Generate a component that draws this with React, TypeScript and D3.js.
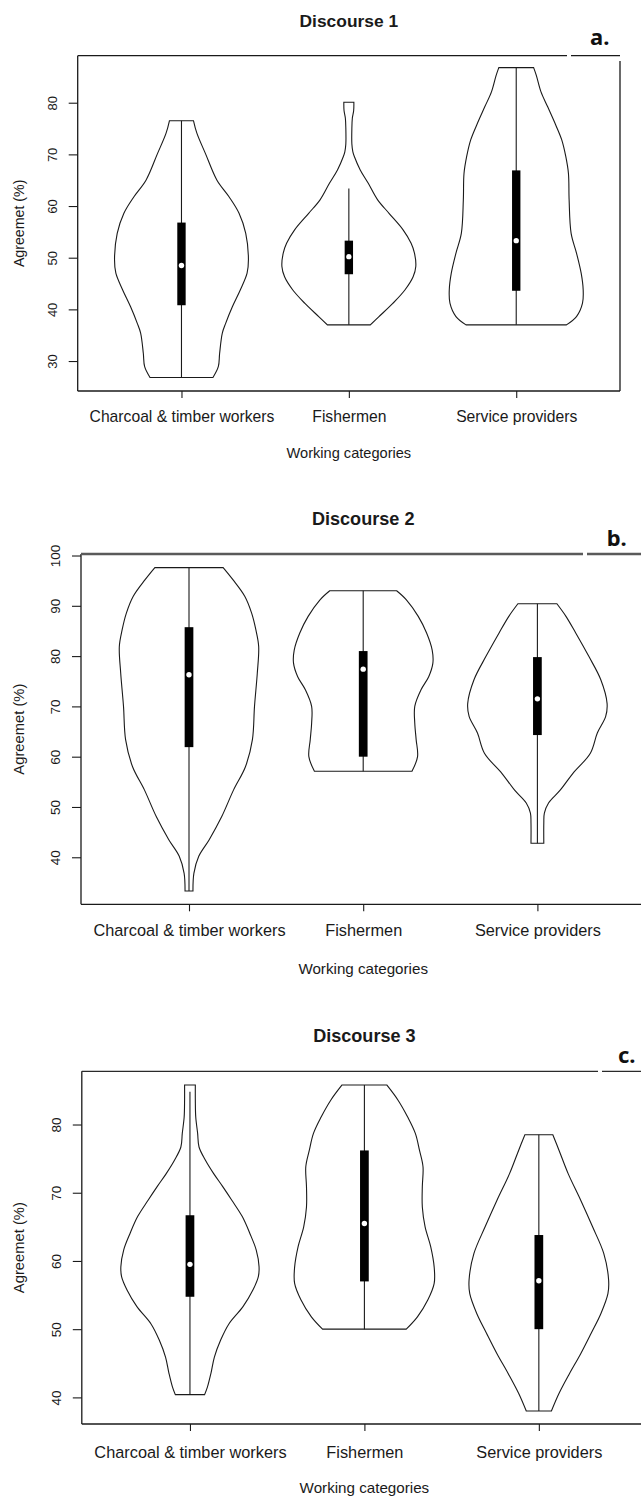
import React, { useEffect, useRef } from "react";
import * as d3 from "d3";

const categories = ["Charcoal & timber workers", "Fishermen", "Service providers"];
const titles = ["Discourse 1", "Discourse 2", "Discourse 3"];
const tags = ["a.", "b.", "c."];

// violin outlines: value (%) and relative density (own max = 1)
const d1CharcoalValues = [76.5, 74.1, 70.1, 65, 61.8, 58.6, 54.7, 49.6, 47, 43.8, 40.5, 37.3, 35.4, 31.5, 28.9, 26.8];
const d1CharcoalDensity = [0.18, 0.23, 0.36, 0.53, 0.71, 0.86, 0.96, 1.0, 0.98, 0.88, 0.76, 0.66, 0.61, 0.57, 0.55, 0.47];
const d1FishValues = [80.1, 78.5, 77, 75, 72, 70.5, 69.6, 67, 64.4, 61.2, 58.6, 55.4, 52.8, 50.9, 48.3, 46.3, 43.8, 41.2, 38.6, 37];
const d1FishDensity = [0.075, 0.072, 0.052, 0.045, 0.045, 0.06, 0.082, 0.17, 0.29, 0.43, 0.6, 0.81, 0.93, 0.98, 1.0, 0.96, 0.84, 0.66, 0.45, 0.32];
const d1ServiceValues = [86.8, 85.3, 82.1, 79.2, 75.7, 72.8, 69.6, 66.3, 61.2, 54.7, 50.9, 47, 43.8, 41.2, 38.6, 37];
const d1ServiceDensity = [0.26, 0.3, 0.37, 0.47, 0.59, 0.68, 0.74, 0.78, 0.79, 0.82, 0.9, 0.97, 1.0, 0.99, 0.9, 0.75];

const d2CharcoalValues = [97.6, 95.2, 91.9, 88.5, 85.2, 81.9, 76.6, 70, 63.4, 58, 53.4, 48.1, 43.5, 40.2, 36.8, 33.3];
const d2CharcoalDensity = [0.49, 0.63, 0.8, 0.9, 0.96, 1.0, 0.98, 0.94, 0.91, 0.81, 0.64, 0.47, 0.29, 0.14, 0.07, 0.057];
const d2FishValues = [93, 91.2, 87.9, 84.6, 81.2, 78.6, 75.9, 73.3, 70, 66.7, 63.4, 60, 57.1];
const d2FishDensity = [0.48, 0.62, 0.79, 0.91, 0.99, 1.0, 0.94, 0.83, 0.74, 0.74, 0.76, 0.78, 0.7];
const d2ServiceValues = [90.4, 87.9, 84.6, 79.9, 75.3, 70.6, 68, 64.7, 60.7, 56.7, 53.4, 50.8, 48.8, 46.8, 42.8];
const d2ServiceDensity = [0.28, 0.41, 0.55, 0.74, 0.91, 1.0, 0.98, 0.86, 0.76, 0.51, 0.33, 0.16, 0.1, 0.092, 0.092];

const d3CharcoalValues = [85.8, 83.6, 81.1, 78.7, 76.7, 74.8, 72.8, 70.9, 68.9, 66.5, 64, 61.6, 59.2, 57.7, 55.7, 53.3, 50.8, 48.4, 45.9, 43.5, 41.5, 40.4];
const d3CharcoalDensity = [0.077, 0.077, 0.083, 0.11, 0.13, 0.22, 0.34, 0.47, 0.6, 0.75, 0.86, 0.95, 0.99, 0.98, 0.9, 0.76, 0.56, 0.44, 0.35, 0.3, 0.25, 0.21];
const d3FishValues = [85.8, 83.6, 81.1, 78.7, 76.2, 73.8, 70.9, 67.9, 65, 62.1, 59.1, 56.7, 54.3, 51.8, 50];
const d3FishDensity = [0.32, 0.48, 0.62, 0.73, 0.79, 0.84, 0.83, 0.83, 0.87, 0.95, 1.0, 1.0, 0.91, 0.76, 0.6];
const d3ServiceValues = [78.5, 76.2, 72.8, 68.9, 65, 61.1, 57.2, 55.2, 52.3, 49.4, 46.4, 43.5, 40.6, 38];
const d3ServiceDensity = [0.2, 0.29, 0.42, 0.6, 0.77, 0.93, 1.0, 0.99, 0.89, 0.75, 0.6, 0.44, 0.29, 0.18];

// box stats per category: [lower whisker, q1, median, q3, upper whisker]
const d1Stats = [
  [26.8, 40.8, 48.5, 56.8, 76.5],
  [37, 46.8, 50.2, 53.3, 63.4],
  [37, 43.6, 53.3, 66.9, 86.8],
];
const d2Stats = [
  [33.3, 61.9, 76.3, 85.75, 97.6],
  [57.1, 60, 77.4, 81, 93],
  [42.8, 64.3, 71.5, 79.8, 90.4],
];
const d3Stats = [
  [40.4, 54.75, 59.5, 66.7, 84.8],
  [50, 57, 65.5, 76.2, 85.8],
  [38, 50, 57.1, 63.8, 78.5],
];

const d1Ticks = [30, 40, 50, 60, 70, 80];
const d2Ticks = [40, 50, 60, 70, 80, 90, 100];
const d3Ticks = [40, 50, 60, 70, 80];

const d1Domain = [24.2, 89.1];
const d2Domain = [30.65, 100.3];
const d3Domain = [36.1, 87.8];

const panels = [
  {
    values: [d1CharcoalValues, d1FishValues, d1ServiceValues],
    density: [d1CharcoalDensity, d1FishDensity, d1ServiceDensity],
    stats: d1Stats,
    ticks: d1Ticks,
    domain: d1Domain,
  },
  {
    values: [d2CharcoalValues, d2FishValues, d2ServiceValues],
    density: [d2CharcoalDensity, d2FishDensity, d2ServiceDensity],
    stats: d2Stats,
    ticks: d2Ticks,
    domain: d2Domain,
  },
  {
    values: [d3CharcoalValues, d3FishValues, d3ServiceValues],
    density: [d3CharcoalDensity, d3FishDensity, d3ServiceDensity],
    stats: d3Stats,
    ticks: d3Ticks,
    domain: d3Domain,
  },
];

// page geometry of each plot frame
const frames = [
  { left: 77.7, right: 620, top: 55.7, bottom: 391, titleY: 26.7, tagX: 590, tagY: 45, catY: 421.7, xTitleY: 458, gapX: 567, fs: 1, topColor: "#1a1a1a", topWidth: 1.2, rightTop: 61 },
  { left: 81, right: 645.4, top: 554, bottom: 904.3, titleY: 525, tagX: 606.7, tagY: 546, catY: 936, xTitleY: 974, gapX: 583, fs: 1.04, topColor: "#5a5a5a", topWidth: 2.4, rightTop: 554 },
  { left: 81.8, right: 647, top: 1071.3, bottom: 1424, titleY: 1041.7, tagX: 618, tagY: 1063, catY: 1457.5, xTitleY: 1493, gapX: 598, fs: 1.04, topColor: "#2a2a2a", topWidth: 1.3, rightTop: 1071.3 },
];

const FONT = "'Liberation Sans', Arial, Helvetica, sans-serif";
const INK = "#1a1a1a";

const ViolinPanel = ({ index }: { index: number }) => {
  const ref = useRef(null);

  useEffect(() => {
    const g = d3.select(ref.current);
    g.selectAll("*").remove();

    const p = panels[index];
    const f = frames[index];

    const x = d3.scaleLinear().domain([0.38, 3.62]).range([f.left, f.right]);
    const y = d3.scaleLinear().domain(p.domain).range([f.bottom, f.top]);
    const step = x(2) - x(1);
    const w = d3.scaleLinear().domain([0, 1]).range([0, 0.4 * step]);
    const boxW = 0.05 * step;

    // violins
    p.values.forEach((vals, i) => {
      const cx = x(i + 1);
      const pts = vals.map((v, k) => [v, p.density[i][k]]);
      const area = d3
        .area<number[]>()
        .y((d) => y(d[0]))
        .x0((d) => cx - w(d[1]))
        .x1((d) => cx + w(d[1]))
        .curve(d3.curveCatmullRom.alpha(0.5));

      g.append("path")
        .attr("d", area(pts))
        .attr("fill", "white")
        .attr("stroke", INK)
        .attr("stroke-width", 1.1);

      const [lo, q1, med, q3, hi] = p.stats[i];
      g.append("line")
        .attr("x1", cx)
        .attr("x2", cx)
        .attr("y1", y(lo))
        .attr("y2", y(hi))
        .attr("stroke", INK)
        .attr("stroke-width", 1.1);
      g.append("rect")
        .attr("x", cx - boxW / 2)
        .attr("width", boxW)
        .attr("y", y(q3))
        .attr("height", y(q1) - y(q3))
        .attr("fill", "#000");
      g.append("circle")
        .attr("cx", cx)
        .attr("cy", y(med))
        .attr("r", 2.7)
        .attr("fill", "white");
    });

    // frame
    const frame = g.append("g").attr("stroke", INK).attr("stroke-width", 1.3).attr("fill", "none");
    frame.append("line").attr("x1", f.left).attr("x2", f.left).attr("y1", f.top).attr("y2", f.bottom);
    frame.append("line").attr("x1", f.left).attr("x2", f.right).attr("y1", f.bottom).attr("y2", f.bottom);
    frame.append("line").attr("x1", f.right).attr("x2", f.right).attr("y1", f.rightTop).attr("y2", f.bottom);
    frame
      .append("line")
      .attr("x1", f.left)
      .attr("x2", f.gapX)
      .attr("y1", f.top)
      .attr("y2", f.top)
      .attr("stroke", f.topColor)
      .attr("stroke-width", f.topWidth);
    frame
      .append("line")
      .attr("x1", f.gapX + 4)
      .attr("x2", f.right)
      .attr("y1", f.top)
      .attr("y2", f.top)
      .attr("stroke", f.topColor)
      .attr("stroke-width", f.topWidth);

    // y axis, labels turned like R's default
    const yAxis = g
      .append("g")
      .attr("transform", `translate(${f.left},0)`)
      .call(d3.axisLeft(y).tickValues(p.ticks).tickSize(9).tickSizeOuter(0));
    yAxis.select(".domain").remove();
    yAxis.selectAll("line").attr("stroke", INK).attr("stroke-width", 1.1);
    yAxis
      .selectAll("text")
      .attr("transform", "rotate(-90)")
      .attr("x", 0)
      .attr("y", -21)
      .attr("dy", 0)
      .attr("text-anchor", "middle")
      .attr("font-family", FONT)
      .attr("font-size", 13 * f.fs)
      .attr("fill", INK);

    // x axis
    const xAxis = g
      .append("g")
      .attr("transform", `translate(0,${f.bottom})`)
      .call(
        d3
          .axisBottom(x)
          .tickValues([1, 2, 3])
          .tickFormat((d) => categories[+d - 1])
          .tickSize(7)
          .tickSizeOuter(0),
      );
    xAxis.select(".domain").remove();
    xAxis.selectAll("line").attr("stroke", INK).attr("stroke-width", 1.1);
    xAxis
      .selectAll("text")
      .attr("y", f.catY - f.bottom)
      .attr("dy", 0)
      .attr("font-family", FONT)
      .attr("font-size", 15.7 * f.fs)
      .attr("fill", INK);

    const mid = (f.left + f.right) / 2;

    g.append("text")
      .attr("x", mid)
      .attr("y", f.titleY)
      .attr("text-anchor", "middle")
      .attr("font-family", FONT)
      .attr("font-weight", "bold")
      .attr("font-size", 17.4 * f.fs)
      .attr("fill", INK)
      .text(titles[index]);

    g.append("text")
      .attr("x", f.tagX)
      .attr("y", f.tagY)
      .attr("font-family", "'Noto Sans', 'Open Sans', sans-serif")
      .attr("font-weight", "bold")
      .attr("font-size", 22)
      .attr("fill", "#111")
      .text(tags[index]);

    g.append("text")
      .attr("x", mid)
      .attr("y", f.xTitleY)
      .attr("text-anchor", "middle")
      .attr("font-family", FONT)
      .attr("font-size", 14.6 * f.fs)
      .attr("fill", INK)
      .text("Working categories");

    g.append("text")
      .attr("transform", `translate(23.5,${(f.top + f.bottom) / 2}) rotate(-90)`)
      .attr("text-anchor", "middle")
      .attr("font-family", FONT)
      .attr("font-size", 14.2 * f.fs)
      .attr("fill", INK)
      .text("Agreemet (%)");
  }, [index]);

  return <g ref={ref}></g>;
};

export default function App() {
  return (
    <svg
      width={641}
      height={1498}
      viewBox="0 0 641 1498"
      style={{ position: "absolute", left: 0, top: 0, background: "white" }}
    >
      <rect width={641} height={1498} fill="white" />
      {panels.map((_, i) => (
        <ViolinPanel key={i} index={i} />
      ))}
    </svg>
  );
}
